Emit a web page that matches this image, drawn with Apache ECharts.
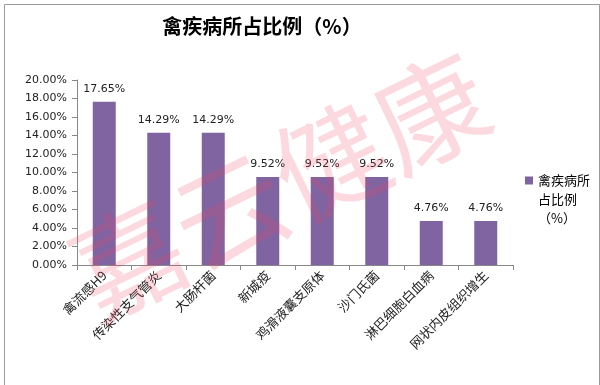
<!DOCTYPE html>
<html><head><meta charset="utf-8">
<script src="https://cdn.jsdelivr.net/npm/echarts@6/dist/echarts.min.js"></script>
<style>html,body{margin:0;padding:0;background:#fff}#c{width:600px;height:385px}</style>
</head><body><div id="c"></div>
<script>
const categories = ['禽流感H9','传染性支气管炎','大肠杆菌','新城疫','鸡滑液囊支原体','沙门氏菌','淋巴细胞白血病','网状内皮组织增生'];
const values = [17.65, 14.29, 14.29, 9.52, 9.52, 9.52, 4.76, 4.76];
const seriesName = '禽疾病所占比例（%）';
const titleText = '禽疾病所占比例（%）';
const watermark = '嘉云健康';

const chart = echarts.init(document.getElementById('c'));
chart.setOption({
  animation: false,
  backgroundColor: '#fff',
  title: {
    text: titleText, left: 257, top: 11, textAlign: 'center',
    textStyle: {fontFamily: 'Noto Sans CJK SC', fontWeight: 'bold', fontSize: 20, color: '#000'}
  },
  grid: {left: 77, top: 80, width: 436, height: 185, containLabel: false},
  legend: {
    left: 520, top: 128, itemWidth: 8, itemHeight: 8, itemGap: 0,
    data: [seriesName],
    formatter: () => ' \n \n禽疾病所\n占比例\n（%）',
    textStyle: {fontFamily: 'Noto Sans CJK SC', fontSize: 13, color: '#000', lineHeight: 19},
    icon: 'rect'
  },
  xAxis: {
    type: 'category', data: categories,
    axisLine: {lineStyle: {color: '#888', width: 1}},
    axisTick: {show: true, alignWithLabel: false, length: 5, lineStyle: {color: '#888'}},
    axisLabel: {rotate: 45, interval: 0, fontFamily: 'Noto Sans CJK SC', fontSize: 13, color: '#222', margin: 8}
  },
  yAxis: {
    type: 'value', min: 0, max: 20, interval: 2,
    axisLine: {show: true, lineStyle: {color: '#888'}},
    axisTick: {show: true, length: 5, lineStyle: {color: '#888'}},
    splitLine: {show: false},
    axisLabel: {formatter: v => v.toFixed(2) + '%', fontFamily: 'DejaVu Sans', fontSize: 11, color: '#222', margin: 10}
  },
  series: [{
    name: seriesName, type: 'bar', data: values, barWidth: 23,
    itemStyle: {color: '#8064A2'},
    label: {show: true, position: 'top', distance: 7, formatter: p => p.value.toFixed(2) + '%',
      fontFamily: 'DejaVu Sans', fontSize: 11, color: '#222'}
  }],
  graphic: [
    {type: 'rect', left: 2, top: 2, shape: {width: 595, height: 381}, style: {fill: 'none', stroke: '#999', lineWidth: 1}, z: 100},
    {type: 'text', x: 280, y: 186, rotation: 26 * Math.PI / 180, z: 50,
      style: {text: watermark, fontSize: 112, fontFamily: 'Noto Sans CJK SC', fill: 'rgba(240,60,95,0.2)', textAlign: 'center', textVerticalAlign: 'middle'}}
  ]
});
</script></body></html>
